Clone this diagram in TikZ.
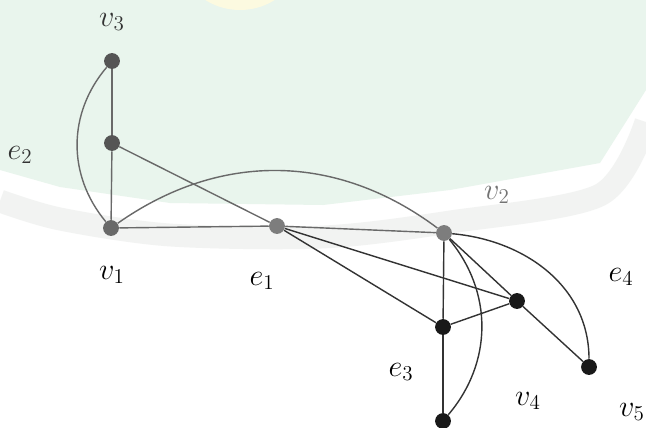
\documentclass[tikz,border=0pt]{standalone}
\usepackage{amsmath}
\usepackage{xcolor}
\usetikzlibrary{calc, positioning}

\definecolor{wmgreen}{RGB}{233,245,237}
\definecolor{wmgray}{RGB}{242,243,242}
\definecolor{wmyellow}{RGB}{252,250,224}
\definecolor{abuTua}{RGB}{85,85,85}
\definecolor{abuSedang}{RGB}{105,105,105}
\definecolor{abuMuda}{RGB}{125,125,125}
\definecolor{hitam}{RGB}{25,25,25}

\begin{document}
\begin{tikzpicture}[x=0.02cm, y=0.02cm,
    titik/.style={circle, inner sep=0pt, minimum size=9pt},
    sisiAtas/.style={line width=0.8pt, abuSedang},
    sisiBawah/.style={line width=0.8pt, black!80},
    label/.style={font=\LARGE, inner sep=0pt}]

    % =================================================================
    % 1. LATAR (BIDANG HIJAU MUDA DAN PITA ABU-ABU)
    % =================================================================
    \useasboundingbox (0,0) rectangle (646,427);
    \fill[white] (0,0) rectangle (646,427);
    \fill[wmgreen] (0,427) -- (646,427) -- (646,337) -- (600,264) -- (450,237)
        -- (323,222) -- (170,224) -- (60,240) -- (0,257) -- cycle;
    \draw[wmgray, line width=13pt] plot[smooth] coordinates
        {(0,226) (60,208) (170,192) (323,190) (450,205) (600,232) (646,305)};
    \fill[wmyellow] (240,482) circle[radius=65];

    % =================================================================
    % 2. TITIK-TITIK GRAF
    % =================================================================
    \node[titik, fill=abuTua]    (V3) at (112,366) {};
    \node[titik, fill=abuTua]    (P)  at (112,284) {};
    \node[titik, fill=abuSedang] (V1) at (111,199) {};
    \node[titik, fill=abuMuda]   (E1) at (277,201) {};
    \node[titik, fill=abuMuda]   (V2) at (444,194) {};
    \node[titik, fill=hitam]     (A)  at (443,100) {};
    \node[titik, fill=hitam]     (B)  at (517,126) {};
    \node[titik, fill=hitam]     (C)  at (443,6) {};
    \node[titik, fill=hitam]     (D)  at (589,60) {};

    % =================================================================
    % 3. SISI-SISI GRAF
    % =================================================================
    % bagian atas (abu-abu)
    \draw[sisiAtas] (V3) -- (P);
    \draw[sisiAtas] (P) -- (V1);
    \draw[sisiAtas] (V3) to[bend right=40] (V1);
    \draw[sisiAtas] (P) -- (E1);
    \draw[sisiAtas] (V1) -- (E1);
    \draw[sisiAtas] (E1) -- (V2);
    \draw[sisiAtas] (V1) to[bend left=36] (V2);

    % bagian bawah (gelap)
    \draw[sisiBawah] (E1) -- (A);
    \draw[sisiBawah] (E1) -- (B);
    \draw[sisiBawah] (V2) -- (A);
    \draw[sisiBawah] (A) -- (C);
    \draw[sisiBawah] (A) -- (B);
    \draw[sisiBawah] (V2) -- (B);
    \draw[sisiBawah] (B) -- (D);
    \draw[sisiBawah] (V2) to[out=-5, in=90] (D);
    \draw[sisiBawah] (V2) to[bend left=40] (C);

    % =================================================================
    % 4. LABEL
    % =================================================================
    \node[label, black!80] (Lv3) at (112,405) {$v_3$};
    \node[label, black!80] (Le2) at (20,272)  {$e_2$};
    \node[label]           (Lv1) at (112,152) {$v_1$};
    \node[label]           (Le1) at (262,146) {$e_1$};
    \node[label, black!55] (Lv2) at (497,232) {$v_2$};
    \node[label]           (Le4) at (621,150) {$e_4$};
    \node[label]           (Le3) at (401,55)  {$e_3$};
    \node[label]           (Lv4) at (528,26)  {$v_4$};
    \node[label]           (Lv5) at (632,15)  {$v_5$};

\end{tikzpicture}
\end{document}
